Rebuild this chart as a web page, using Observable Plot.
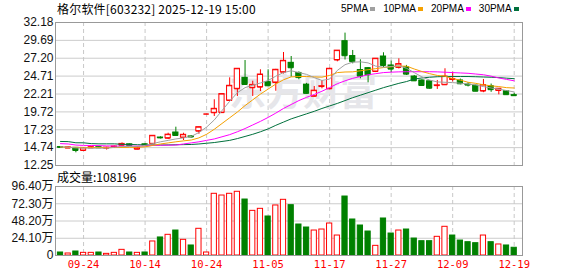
<!DOCTYPE html>
<html><head><meta charset="utf-8">
<script src="https://cdn.jsdelivr.net/npm/d3@7"></script>
<script src="https://cdn.jsdelivr.net/npm/@observablehq/plot@0.6"></script>
<style>
body{margin:0;background:#fff;}
#wrap{position:relative;width:578px;height:276px;overflow:hidden;background:#fff;}
#wrap svg{position:absolute;left:0;}
.t{position:absolute;white-space:nowrap;color:#000;}
.sq{display:inline-block;width:5px;height:4px;margin:0 0 1px 2px;vertical-align:middle;}
</style></head><body><div id="wrap"></div>
<script>
const dates = ["09-19","09-22","09-23","09-24","09-25","09-26","09-29","09-30","10-09","10-10","10-13","10-14","10-15","10-16","10-17","10-20","10-21","10-22","10-23","10-24","10-27","10-28","10-29","10-30","10-31","11-03","11-04","11-05","11-06","11-07","11-10","11-11","11-12","11-13","11-14","11-17","11-18","11-19","11-20","11-21","11-24","11-25","11-26","11-27","11-28","12-01","12-02","12-03","12-04","12-05","12-08","12-09","12-10","12-11","12-12","12-15","12-16","12-17","12-18","12-19"];
const open  = [14.82,14.68,14.71,14.34,14.70,14.80,14.66,14.76,15.06,15.20,14.52,15.20,15.27,16.15,16.05,16.85,16.15,16.30,17.03,19.42,19.60,19.62,21.31,22.94,24.47,23.08,23.17,23.86,23.82,25.25,26.56,25.15,23.52,21.90,23.25,22.94,26.95,29.57,27.50,25.55,25.81,25.35,27.44,26.19,25.92,25.93,24.65,24.10,23.98,23.38,23.50,24.24,24.10,23.52,23.38,22.62,23.30,22.70,22.60,22.05];
const high  = [14.90,14.84,14.76,14.74,14.85,14.86,14.80,14.96,15.40,15.25,14.80,15.28,16.40,16.25,16.75,17.59,16.75,16.40,17.60,19.42,21.41,22.24,24.47,25.75,26.88,24.00,25.59,25.59,25.65,28.00,27.44,25.30,23.70,23.26,24.10,25.80,28.26,30.70,28.28,26.98,25.90,27.16,27.96,26.80,27.12,26.20,24.80,24.20,24.05,24.10,25.73,25.25,24.30,23.80,23.45,24.24,23.60,22.98,22.65,22.30];
const low   = [14.72,14.62,14.02,14.30,14.62,14.66,14.40,14.70,15.00,14.95,14.45,14.98,15.20,15.95,15.90,16.30,15.73,16.10,16.60,19.42,19.08,19.55,21.20,21.87,23.40,21.87,22.56,23.30,22.60,25.00,24.56,24.20,22.20,21.80,22.94,22.80,26.70,26.95,26.42,24.33,23.78,25.20,25.90,25.20,25.70,24.80,24.00,23.30,22.90,22.85,23.40,23.90,23.50,23.20,22.55,22.40,22.45,22.10,22.10,21.95];
const close = [14.78,14.78,14.34,14.70,14.80,14.72,14.74,14.90,15.26,15.02,14.76,15.02,16.39,16.10,16.55,16.43,16.53,16.22,17.59,19.42,20.15,22.20,23.36,25.73,23.54,23.50,24.93,23.36,25.59,26.84,25.87,24.50,22.30,22.68,23.30,25.73,28.26,27.55,26.72,24.70,24.89,27.14,26.19,25.68,26.38,24.98,24.05,23.40,23.02,23.42,24.65,24.30,23.64,23.46,22.60,23.46,22.82,22.95,22.12,21.98];
const volume = [4.2,2.8,5.6,3.7,3.7,4.2,2.3,3.7,7.9,4.2,3.7,4.2,19.6,25.2,28.9,34.9,21.9,14.0,37.3,4.2,86.2,83.8,86.2,89.0,78.2,62.4,65.2,54.5,69.9,77.8,70.3,43.3,39.1,34.9,36.3,44.7,27.9,82.4,50.3,41.9,33.5,13.5,51.7,30.7,34.9,36.3,23.7,20.0,20.0,26.1,40.1,27.9,20.9,18.6,17.2,27.9,18.6,15.4,14.0,10.82];
const volUp = [0,1,0,1,1,0,1,1,1,0,1,0,1,0,1,0,1,0,1,1,1,1,1,1,0,1,1,0,1,1,0,0,0,1,1,1,1,0,0,0,0,1,0,0,1,0,0,0,0,1,1,0,0,0,0,1,0,1,0,0];
const ma5  = [14.85,14.80,14.70,14.68,14.66,14.67,14.66,14.78,14.88,14.92,14.92,15.05,15.30,15.55,15.75,15.95,16.10,16.30,16.85,17.60,18.60,19.90,21.20,22.40,23.10,23.45,23.75,24.10,24.70,25.20,25.45,25.20,24.95,24.50,24.10,24.30,25.50,26.30,26.65,26.70,26.55,26.10,25.95,26.05,26.15,25.80,25.20,24.60,24.15,23.90,23.85,23.80,23.72,23.60,23.48,23.25,23.05,22.90,22.70,22.50];
const ma10 = [14.82,14.80,14.78,14.76,14.76,14.76,14.75,14.75,14.76,14.78,14.78,14.85,15.05,15.25,15.40,15.55,15.68,15.80,16.10,16.60,17.30,18.10,18.90,19.70,20.60,21.40,22.20,22.90,23.60,24.20,24.60,24.65,24.65,24.60,24.56,24.80,25.20,25.28,25.30,25.45,25.60,25.75,25.90,26.00,26.10,26.10,25.70,25.35,25.05,24.80,24.70,24.35,24.15,23.85,23.70,23.50,23.35,23.25,23.10,23.05];
const ma20 = [15.30,15.25,15.10,15.05,15.04,15.02,14.98,14.96,14.95,14.95,14.95,14.98,15.05,15.08,15.08,15.10,15.25,15.40,15.55,15.75,15.95,16.25,16.55,16.95,17.40,17.90,18.40,18.95,19.55,20.20,20.75,21.30,21.75,22.15,22.60,23.10,23.65,24.05,24.40,24.65,24.90,25.05,25.20,25.26,25.30,25.32,25.32,25.32,25.32,25.30,25.25,25.20,25.15,25.10,25.00,24.90,24.70,24.45,24.25,24.05];
const ma30 = [15.60,15.58,15.42,15.41,15.30,15.27,15.27,15.27,15.20,15.18,15.15,15.12,15.10,15.10,15.12,15.14,15.16,15.18,15.25,15.35,15.45,15.60,15.75,16.00,16.30,16.60,16.95,17.35,17.85,18.30,18.75,19.10,19.45,19.80,20.20,20.55,20.90,21.30,21.70,22.05,22.40,22.75,23.10,23.40,23.70,23.95,24.30,24.45,24.55,24.62,24.65,24.65,24.65,24.65,24.62,24.58,24.55,24.50,24.42,24.35];
const priceTicks = [12.25,14.74,17.23,19.72,22.21,24.71,27.20,29.69,32.18];
const volTicks = [0,24.10,48.20,72.30,96.40];
const xTickDates = ["09-24","10-14","10-24","11-05","11-17","11-27","12-09","12-19"];
const maNames = ["5PMA","10PMA","20PMA","30PMA"];
const maColors = ["#a0a0a0","#f5a100","#ff00ff","#00703c"];
const title = "格尔软件[603232] 2025-12-19 15:00";
const volTitle = "成交量:108196";
const watermark = "东方财富";

const RED = "#ff0000", GREEN = "#008000";
const rows = dates.map((d, i) => ({
  i, date: d, open: open[i], high: high[i], low: low[i], close: close[i],
  vol: volume[i], vup: volUp[i] === 1,
  ma5: ma5[i], ma10: ma10[i], ma20: ma20[i], ma30: ma30[i]
}));
const tickIdx = xTickDates.map(d => dates.indexOf(d));
const hw = 0.34;
const col = d => d.close >= d.open ? RED : GREEN;
const xDomain = [-0.65, 60.08];
const font = "'Liberation Sans', 'Noto Sans CJK SC', sans-serif";

const price = Plot.plot({
  width: 578, height: 178,
  marginLeft: 55, marginRight: 56, marginTop: 22, marginBottom: 13,
  style: {background: "transparent", fontFamily: font},
  x: {domain: xDomain, axis: null},
  y: {domain: [priceTicks[0], priceTicks[priceTicks.length - 1]], axis: null},
  marks: [
    Plot.ruleY(priceTicks.slice(1, -1), {stroke: "#cccccc", strokeWidth: 1}),
    Plot.ruleX(tickIdx, {stroke: "#c8c8c8", strokeDasharray: "4,3"}),
    Plot.text([watermark], {frameAnchor: "middle", dx: 14, dy: 0, fontSize: 37, fontWeight: 700, fill: "#e6e6ea", fontFamily: "'Noto Sans CJK SC', sans-serif"}),
    Plot.ruleX(rows, {x: "i", y1: "low", y2: "high", stroke: col, strokeWidth: 1}),
    Plot.rect(rows, {x1: d => d.i - hw, x2: d => d.i + hw, y1: "open", y2: "close", fill: d => d.close >= d.open ? "#ffffff" : GREEN, stroke: col, strokeWidth: 1}),
    Plot.ruleY(rows, {x1: d => d.i - hw, x2: d => d.i + hw, y: "open", stroke: col}),
    Plot.ruleY(rows, {x1: d => d.i - hw, x2: d => d.i + hw, y: "close", stroke: col}),
    Plot.line(rows, {x: "i", y: "ma30", stroke: maColors[3], strokeWidth: 1}),
    Plot.line(rows, {x: "i", y: "ma20", stroke: maColors[2], strokeWidth: 1}),
    Plot.line(rows, {x: "i", y: "ma10", stroke: maColors[1], strokeWidth: 1}),
    Plot.line(rows, {x: "i", y: "ma5", stroke: maColors[0], strokeWidth: 1}),
    Plot.frame({stroke: "#999999"}),
    Plot.axisY({ticks: priceTicks, tickFormat: d => d.toFixed(2), tickSize: 0, tickPadding: 2, fontSize: 12, fill: "#111", label: null})
  ]
});
price.style.top = "0px";

const vol = Plot.plot({
  width: 578, height: 106,
  marginLeft: 55, marginRight: 56, marginTop: 16, marginBottom: 21,
  style: {background: "transparent", fontFamily: font},
  x: {domain: xDomain, axis: null},
  y: {domain: [volTicks[0], volTicks[volTicks.length - 1]], axis: null},
  marks: [
    Plot.ruleY(volTicks.slice(1, -1), {stroke: "#cccccc"}),
    Plot.ruleX(tickIdx, {stroke: "#c8c8c8", strokeDasharray: "4,3"}),
    Plot.rect(rows, {x1: d => d.i - hw, x2: d => d.i + hw, y1: 0, y2: "vol", fill: d => d.vup ? "#ffffff" : GREEN, stroke: d => d.vup ? RED : GREEN, strokeWidth: 1}),
    Plot.frame({stroke: "#999999"}),
    Plot.axisY({ticks: volTicks, tickFormat: d => d === 0 ? "0" : d.toFixed(2) + "万", tickSize: 0, tickPadding: 2, fontSize: 12, fill: "#111", label: null}),
    Plot.axisX({ticks: tickIdx, tickFormat: i => dates[i], tickSize: 0, tickPadding: 5, fontSize: 10.5, fill: RED, fontFamily: "'DejaVu Sans Mono', monospace", label: null})
  ]
});
vol.style.top = "170px";

const wrap = document.getElementById("wrap");
wrap.appendChild(price);
wrap.appendChild(vol);

const t = document.createElement("div");
t.className = "t";
t.style.cssText = "left:57px;top:1px;font:12px 'Noto Sans CJK SC',sans-serif;line-height:16px;letter-spacing:0.2px;";
t.textContent = title;
wrap.appendChild(t);

const lg = document.createElement("div");
lg.className = "t";
lg.style.cssText = "left:341px;top:2px;font:10px 'Liberation Sans',sans-serif;line-height:14px;";
lg.innerHTML = maNames.map((n, k) => `<span style="margin-right:${k < 3 ? 8 : 0}px">${n}<span class="sq" style="background:${maColors[k]}"></span></span>`).join("");
wrap.appendChild(lg);

const vt = document.createElement("div");
vt.className = "t";
vt.style.cssText = "left:57px;top:169px;font:12px 'Noto Sans CJK SC',sans-serif;line-height:16px;";
vt.textContent = volTitle;
wrap.appendChild(vt);
</script>
</body></html>
